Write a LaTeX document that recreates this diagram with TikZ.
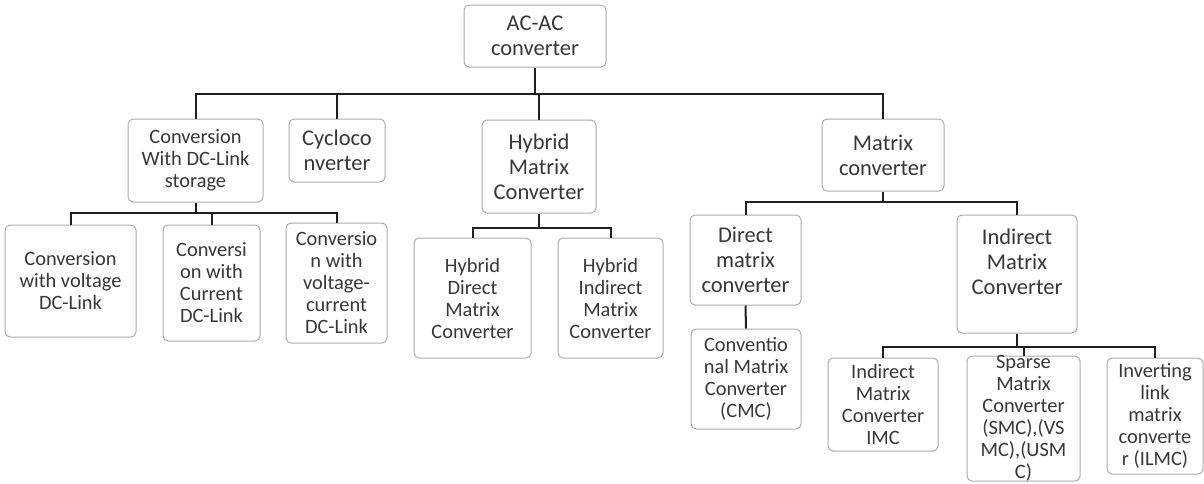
\documentclass[tikz,border=0pt]{standalone}
\usepackage{fontspec}
\setmainfont{Carlito}
\usetikzlibrary{calc}

\begin{document}
\begin{tikzpicture}[x=0.5pt,y=-0.5pt,
	box/.style={draw=gray!65,line width=0.5pt,rounded corners=2.5pt,fill=white,align=center,text=black!78,inner sep=0pt},
	big/.style={box,font=\fontsize{11.25}{12.5}\selectfont},
	small/.style={box,font=\fontsize{10.2}{11}\selectfont},
	wh/.style 2 args={minimum width=#1*0.5pt,minimum height=#2*0.5pt},
	link/.style={line width=1pt,black!88}]
					%\draw[help lines] (0,0) grid[step=50] (1204,483);
					\useasboundingbox (0,0) rectangle (1204,483);
					
					%ROOT AND FIRST LEVEL
					\node[big,wh={142}{62}] (acac) at (535,36) {AC-AC\\converter};
					\node[small,wh={135}{83}] (dclink) at (195.5,160.5) {Conversion\\With DC-Link\\storage};
					\node[big,wh={96}{63}] (cyclo) at (337,150.5) {Cycloco\\nverter};
					\node[big,wh={114}{93}] (hmc) at (539,166.5) {Hybrid\\Matrix\\Converter};
					\node[big,wh={122}{72}] (mc) at (883,155) {Matrix\\converter};
					
					%DC-LINK BRANCH
					\node[small,wh={131}{112}] (vlink) at (70.5,281) {Conversion\\with voltage\\DC-Link};
					\node[small,wh={97}{116}] (clink) at (211.5,283) {Conversi\\on with\\Current\\DC-Link};
					\node[small,wh={101}{120}] (vclink) at (336.5,283) {Conversio\\n with\\voltage-\\current\\DC-Link};
					
					%HYBRID BRANCH
					\node[small,wh={117}{120}] (hdmc) at (472.5,298) {Hybrid\\Direct\\Matrix\\Converter};
					\node[small,wh={105}{120}] (himc) at (610.5,298) {Hybrid\\Indirect\\Matrix\\Converter};
					
					%MATRIX BRANCH
					\node[big,wh={111}{90}] (dmc) at (745.5,260) {Direct\\matrix\\converter};
					\node[big,wh={120}{118}] (imc) at (1017,274) {Indirect\\Matrix\\Converter\\\mbox{}};
					\node[small,wh={110}{100}] (cmc) at (746,379) {Conventio\\nal Matrix\\Converter\\(CMC)};
					\node[small,wh={110}{93}] (imcl) at (883,404.5) {Indirect\\Matrix\\Converter\\IMC};
					\node[small,wh={113}{125},inner ysep=-3pt] (smc) at (1023.5,418.5) {Sparse\\Matrix\\Converter\\(SMC),(VS\\MC),(USM\\C)};
					\node[small,wh={96}{116}] (ilmc) at (1155,416) {Inverting\\link\\matrix\\converte\\r (ILMC)};
					
					%BUSES
					\coordinate (b0) at (535,94);
					\coordinate (b1) at (195.5,213);
					\coordinate (b2) at (539,228);
					\coordinate (b3) at (883,202);
					\coordinate (b4) at (1017,347);
					
					\draw[link] (acac.south) -- (b0);
					\foreach \n in {dclink,cyclo,hmc,mc} \draw[link] (b0) -| (\n.north);
					
					\draw[link] (dclink.south) -- (b1);
					\foreach \n in {vlink,clink,vclink} \draw[link] (b1) -| (\n.north);
					
					\draw[link] (hmc.south) -- (b2);
					\foreach \n in {hdmc,himc} \draw[link] (b2) -| (\n.north);
					
					\draw[link] (mc.south) -- (b3);
					\foreach \n in {dmc,imc} \draw[link] (b3) -| (\n.north);
					\draw[link] (dmc.south) -- (cmc.north);
					
					\draw[link] (imc.south) -- (b4);
					\foreach \n in {imcl,smc,ilmc} \draw[link] (b4) -| (\n.north);
					
				  \end{tikzpicture}
\end{document}
